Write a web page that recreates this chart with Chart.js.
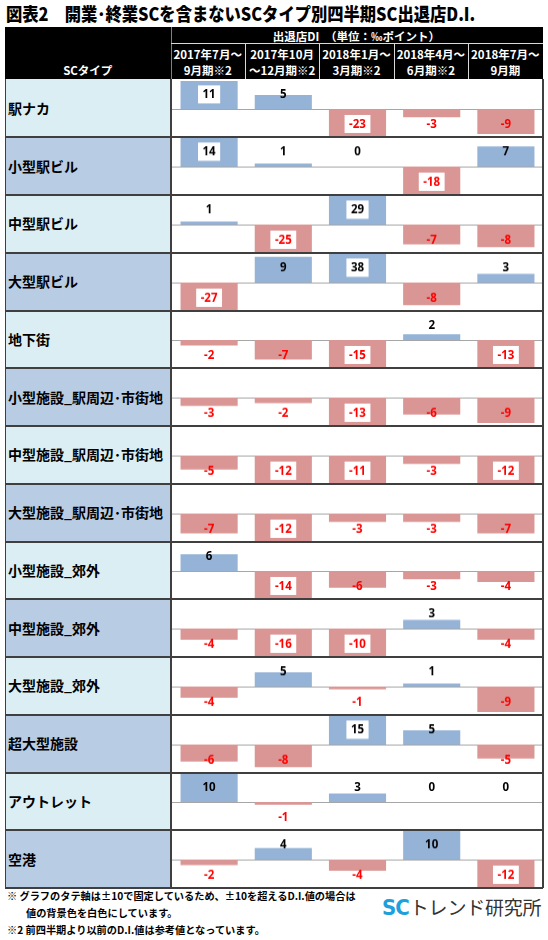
<!DOCTYPE html>
<html><head><meta charset="utf-8">
<script src="https://cdn.jsdelivr.net/npm/chart.js@4.4.0/dist/chart.umd.min.js"></script>
<style>
html,body{margin:0;padding:0;background:#fff;}
body{width:548px;height:940px;position:relative;overflow:hidden;font-family:"Noto Sans CJK JP","Noto Sans",sans-serif;}
.abs{position:absolute;}
#title{left:6px;top:0px;font-size:18px;font-weight:900;color:#000;white-space:nowrap;line-height:27px;transform:scaleX(0.905);transform-origin:0 50%;}
#head{left:5px;top:27px;width:538px;height:52px;background:#000;}
.hw{color:#fff;font-weight:700;font-size:11.5px;white-space:nowrap;text-align:center;line-height:16px;}
.lab{font-weight:700;font-size:14px;color:#000;white-space:nowrap;display:flex;align-items:center;padding-left:3px;box-sizing:border-box;}
.note{font-weight:700;font-size:10.2px;color:#000;white-space:nowrap;line-height:14px;}
</style></head>
<body>
<div id="title" class="abs">図表2　開業･終業SCを含まないSCタイプ別四半期SC出退店D.I.</div>
<div id="head" class="abs"></div>
<div id="root"></div>
<script>
// ---- data ----
const periods = [["2017年7月～","9月期※2"],["2017年10月","～12月期※2"],["2018年1月～","3月期※2"],["2018年4月～","6月期※2"],["2018年7月～","9月期"]];
const scTypes = ["駅ナカ","小型駅ビル","中型駅ビル","大型駅ビル","地下街","小型施設_駅周辺･市街地","中型施設_駅周辺･市街地","大型施設_駅周辺･市街地","小型施設_郊外","中型施設_郊外","大型施設_郊外","超大型施設","アウトレット","空港"];
const di2017Q3 = [11,14,1,-27,-2,-3,-5,-7,6,-4,-4,-6,10,-2];
const di2017Q4 = [5,1,-25,9,-7,-2,-12,-12,-14,-16,5,-8,-1,4];
const di2018Q1 = [-23,0,29,38,-15,-13,-11,-3,-6,-10.4,-1,15,3,-4];
const di2018Q2 = [-3,-18,-7,-8,2,-6,-3,-3,-3,3,1,5,0,10];
const di2018Q3 = [-9,7,-8,3,-13,-9,-12,-7,-4,-4,-9,-5,0,-12];
const yRange = [-10, 10];
const headerTitle = "出退店DI　（単位：‰ポイント）";
const typeHeader = "SCタイプ";

// ---- layout ----
const series = [di2017Q3, di2017Q4, di2018Q1, di2018Q2, di2018Q3];
const root = document.getElementById('root');
const X0 = 5, XL = 170.5, XR = 542.5, HEAD_TOP = 27, HEAD_BOT = 79, ROW_H = 57.75;
const colW = (XR - XL) / periods.length;
function el(cls, css, html){
  const d = document.createElement('div');
  d.className = 'abs ' + (cls||'');
  Object.assign(d.style, css);
  if (html !== undefined) d.innerHTML = html;
  root.appendChild(d);
  return d;
}
const px = v => v + 'px';
// header
el('', {left:px(XL), top:px(HEAD_TOP), width:'1px', height:px(HEAD_BOT-HEAD_TOP), background:'#7f7f7f'});
el('', {left:px(XL), top:px(43), width:px(XR-XL), height:'1px', background:'#d9d9d9'});
el('hw', {left:px(XL), top:px(27.5), width:px(XR-XL), fontSize:'11.5px'}, headerTitle);
el('hw', {left:px(X0), top:px(62), width:px(XL-X0)}, typeHeader);
periods.forEach((p,k)=>{
  const x = XL + k*colW;
  if (k>0) el('', {left:px(x), top:px(43), width:'1px', height:px(HEAD_BOT-43), background:'#d9d9d9'});
  el('hw', {left:px(x), top:px(46), width:px(colW)}, p[0] + '<br>' + p[1]);
});

// plugins
const zeroLine = {
  id:'zeroLine',
  beforeDatasetsDraw(chart){
    const {ctx, chartArea, scales} = chart;
    const y = Math.round(scales.y.getPixelForValue(0)) + 0.5;
    ctx.save();
    ctx.strokeStyle = '#a6a6a6'; ctx.lineWidth = 1.2;
    ctx.beginPath(); ctx.moveTo(chartArea.left, y); ctx.lineTo(chartArea.right, y); ctx.stroke();
    ctx.restore();
  }
};
const valueLabels = {
  id:'valueLabels',
  afterDatasetsDraw(chart){
    const {ctx, scales} = chart;
    const meta = chart.getDatasetMeta(0);
    const data = chart.data.datasets[0].data;
    ctx.save();
    ctx.font = 'bold 11.5px "Noto Sans", "DejaVu Sans", sans-serif';
    ctx.textAlign = 'center'; ctx.textBaseline = 'middle';
    data.forEach((v,i)=>{
      const x = meta.data[i].x;
      const y = scales.y.getPixelForValue(v >= 0 ? 5.2 : -5.4);
      const t = String(Math.round(v));
      if (Math.abs(v) > yRange[1]) {
        const w = ctx.measureText(t).width + 9;
        ctx.fillStyle = '#fff';
        ctx.fillRect(x - w/2, y - 9, w, 18);
      }
      ctx.fillStyle = v >= 0 ? '#000' : '#ff0000';
      ctx.fillText(t, x, y + 0.5);
    });
    ctx.restore();
  }
};

scTypes.forEach((name, r)=>{
  const top = HEAD_BOT + r*ROW_H;
  const bg = r % 2 === 0 ? '#daeef3' : '#b8cce4';
  el('lab', {left:px(X0), top:px(top), width:px(XL-X0), height:px(ROW_H), background:bg}, name);
  const wrap = el('', {left:px(XL+1), top:px(top+1.5), width:px(XR-XL-1), height:px(ROW_H-2)});
  const cv = document.createElement('canvas');
  wrap.appendChild(cv);
  const vals = series.map(s => s[r]);
  new Chart(cv, {
    type:'bar',
    data:{labels: periods, datasets:[{data: vals,
      backgroundColor: vals.map(v => v >= 0 ? '#95b3d7' : '#da9694'),
      borderWidth:0, barPercentage:0.77, categoryPercentage:1}]},
    options:{responsive:true, maintainAspectRatio:false, animation:false,
      layout:{padding:0},
      plugins:{legend:{display:false}, tooltip:{enabled:false}},
      scales:{x:{display:false}, y:{display:false, min:yRange[0], max:yRange[1]}}},
    plugins:[zeroLine, valueLabels]
  });
  if (r>0) el('', {left:px(X0), top:px(top-0.5), width:px(XR-X0+0.5), height:'2px', background:'#3f3f3f'});
});
const bottom = HEAD_BOT + scTypes.length*ROW_H;
el('', {left:px(X0), top:px(bottom-1), width:px(XR-X0+0.5), height:'2px', background:'#3f3f3f'});
el('', {left:px(X0-0.5), top:px(HEAD_BOT), width:'1.5px', height:px(bottom-HEAD_BOT), background:'#3f3f3f'});
el('', {left:px(XL-0.5), top:px(HEAD_BOT), width:'1.5px', height:px(bottom-HEAD_BOT), background:'#3f3f3f'});
el('', {left:px(XR-0.5), top:px(HEAD_BOT), width:'1.5px', height:px(bottom-HEAD_BOT), background:'#3f3f3f'});

// footer
el('note', {left:'7px', top:px(889)}, '※ グラフのタテ軸は±10で固定しているため、±10を超えるD.I.値の場合は');
el('note', {left:'26px', top:px(906)}, '値の背景色を白色にしています。');
el('note', {left:'7px', top:px(923)}, '※2 前四半期より以前のD.I.値は参考値となっています。');
el('', {left:'382px', top:'893px', whiteSpace:'nowrap', fontSize:'19px', lineHeight:'28px', color:'#333', fontWeight:'400', letterSpacing:'-0.2px'},
  '<span style="color:#1ea0dc;font-weight:700;font-size:22px;font-family:\'DejaVu Sans Condensed\',\'DejaVu Sans\',sans-serif;letter-spacing:-1px;margin-right:1px">SC</span>トレンド研究所');
</script>
</body></html>
